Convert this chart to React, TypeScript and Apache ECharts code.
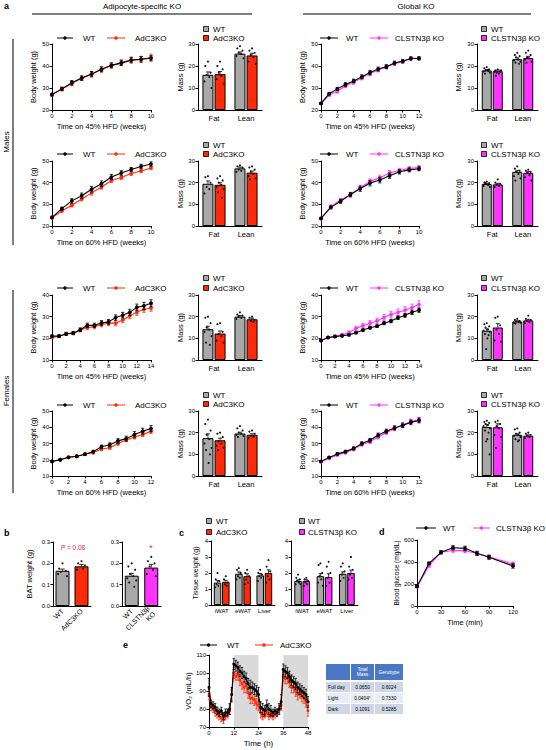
import React, { useEffect, useRef } from 'react';
import * as echarts from 'echarts';

const FONT = '"Liberation Sans", Arial, Helvetica, sans-serif';
const BLACK = '#000000';
const RED = '#FF2A0A';
const MAGENTA = '#FF33FF';
const GRAY = '#A8A8A8';
const SHADE = '#DADADA';
const TABLE_HEAD = '#4A78C4';
const TABLE_DARK = '#CFD7E7';
const TABLE_LIGHT = '#E8ECF4';

// ---------- x values / categories ----------
const weeks10 = [0, 1, 2, 3, 4, 5, 6, 7, 8, 9, 10];
const weeks12 = [0, 1, 2, 3, 4, 5, 6, 7, 8, 9, 10, 11, 12];
const weeks14 = [0, 1, 2, 3, 4, 5, 6, 7, 8, 9, 10, 11, 12, 13, 14];
const massCategories = ['Fat', 'Lean'];
const tissueCategories = ['iWAT', 'eWAT', 'Liver'];
const batCategoriesA = ['WT', 'AdC3KO'];
const batCategoriesG = ['WT', 'CLSTN3β\nKO'];
const glucoseMinutes = [0, 15, 30, 45, 60, 75, 90, 120];
const vo2Hours = [0, 1, 2, 3, 4, 5, 6, 7, 8, 9, 10, 11, 12, 13, 14, 15, 16, 17, 18, 19, 20, 21, 22, 23, 24,
  25, 26, 27, 28, 29, 30, 31, 32, 33, 34, 35, 36, 37, 38, 39, 40, 41, 42, 43, 44, 45, 46, 47, 48];

// ---------- body weight curves ----------
const maleA45WT = [27.0, 29.6, 32.4, 34.5, 36.4, 38.5, 40.3, 41.3, 42.6, 43.1, 43.5];
const maleA45WTErr = [0.6, 0.8, 1.0, 1.0, 1.1, 1.1, 1.1, 1.1, 1.2, 1.2, 1.2];
const maleA45KO = [27.0, 29.5, 32.0, 34.4, 36.2, 38.4, 40.2, 41.6, 42.8, 43.0, 43.9];
const maleA45KOErr = [0.6, 0.8, 1.0, 1.0, 1.3, 1.2, 1.2, 1.3, 1.3, 1.4, 1.5];

const maleG45WT = [23.0, 27.4, 29.6, 31.6, 33.2, 35.1, 37.0, 38.6, 39.7, 41.4, 42.2, 43.4, 43.5];
const maleG45WTErr = [0.4, 0.5, 0.7, 0.8, 0.8, 0.9, 1.0, 0.9, 0.9, 0.8, 0.8, 0.7, 0.7];
const maleG45KO = [23.0, 26.8, 28.5, 31.0, 32.6, 34.6, 36.6, 38.2, 39.5, 41.0, 42.0, 43.5, 43.4];
const maleG45KOErr = [0.4, 0.6, 0.8, 0.8, 0.9, 0.9, 1.0, 0.9, 0.8, 0.8, 0.7, 0.6, 0.6];

const maleA60WT = [24.0, 28.0, 31.6, 34.0, 37.0, 39.5, 42.6, 44.5, 46.1, 47.5, 48.6];
const maleA60WTErr = [0.5, 0.7, 1.0, 1.2, 1.3, 1.3, 1.2, 1.0, 0.9, 1.0, 1.0];
const maleA60KO = [23.8, 27.0, 29.6, 32.5, 35.3, 38.0, 41.0, 42.4, 44.2, 45.4, 46.8];
const maleA60KOErr = [0.5, 0.6, 0.8, 0.9, 1.0, 1.0, 0.9, 0.9, 0.8, 0.8, 0.8];

const maleG60WT = [23.5, 28.6, 31.4, 34.5, 37.2, 39.8, 41.2, 43.2, 45.0, 45.9, 46.4];
const maleG60WTErr = [0.5, 0.7, 0.9, 1.0, 1.2, 1.3, 1.3, 1.2, 1.0, 0.9, 0.9];
const maleG60KO = [23.4, 29.0, 32.0, 34.4, 37.8, 40.6, 42.3, 44.5, 45.6, 46.6, 47.0];
const maleG60KOErr = [0.5, 0.7, 0.8, 1.0, 1.0, 1.1, 1.2, 1.1, 1.0, 0.9, 0.9];

const femA45WT = [21.0, 21.0, 22.0, 22.4, 24.0, 26.0, 26.0, 27.1, 27.6, 29.6, 30.7, 32.0, 34.3, 35.0, 36.2];
const femA45WTErr = [0.5, 0.6, 0.6, 0.7, 0.8, 1.0, 1.0, 1.1, 1.1, 1.2, 1.3, 1.4, 1.5, 1.6, 1.6];
const femA45KO = [20.4, 21.0, 22.2, 22.4, 23.8, 25.0, 25.4, 26.4, 27.0, 27.0, 28.5, 30.4, 32.0, 33.4, 34.0];
const femA45KOErr = [0.5, 0.6, 0.6, 0.7, 0.8, 1.0, 1.0, 1.1, 1.1, 1.2, 1.3, 1.3, 1.4, 1.4, 1.5];

const femG45WT = [19.0, 20.4, 20.8, 21.2, 21.6, 22.6, 23.8, 24.9, 25.6, 27.0, 28.0, 29.5, 30.6, 32.0, 33.0];
const femG45WTErr = [0.4, 0.4, 0.4, 0.5, 0.5, 0.5, 0.6, 0.6, 0.6, 0.7, 0.8, 0.8, 0.9, 1.0, 1.0];
const femG45KO = [19.0, 20.3, 21.0, 21.6, 22.6, 24.6, 25.8, 27.0, 28.0, 29.6, 31.0, 32.0, 33.0, 34.2, 35.6];
const femG45KOErr = [0.4, 0.5, 0.6, 0.7, 0.8, 1.0, 1.1, 1.2, 1.3, 1.4, 1.5, 1.5, 1.6, 1.6, 1.7];

const femA60WT = [19.0, 20.0, 21.5, 22.2, 23.4, 25.0, 28.0, 29.2, 31.6, 33.0, 35.6, 37.6, 39.2];
const femA60WTErr = [0.4, 0.4, 0.5, 0.5, 0.6, 0.8, 1.0, 1.2, 1.4, 1.5, 1.7, 1.8, 1.9];
const femA60KO = [19.0, 20.0, 21.6, 22.0, 23.4, 24.4, 26.6, 27.4, 30.0, 32.2, 34.0, 35.6, 37.6];
const femA60KOErr = [0.4, 0.4, 0.5, 0.5, 0.6, 0.7, 0.8, 0.9, 1.0, 1.1, 1.2, 1.3, 1.4];

const femG60WT = [19.0, 21.4, 23.6, 25.0, 27.0, 30.0, 32.0, 35.2, 37.6, 39.6, 41.2, 43.0, 44.2];
const femG60WTErr = [0.5, 0.6, 0.7, 0.8, 0.9, 1.0, 1.1, 1.2, 1.2, 1.3, 1.4, 1.4, 1.5];
const femG60KO = [18.6, 21.0, 23.0, 24.4, 26.4, 29.4, 31.0, 34.0, 36.8, 39.2, 41.2, 43.6, 44.6];
const femG60KOErr = [0.5, 0.6, 0.7, 0.8, 0.9, 1.0, 1.1, 1.2, 1.2, 1.3, 1.4, 1.4, 1.5];

// ---------- body composition (Fat, Lean) ----------
const massMA45WT = [16.0, 25.6]; const massMA45WTErr = [1.3, 0.8];
const massMA45KO = [16.3, 24.8]; const massMA45KOErr = [1.2, 1.0];
const massMA45Dots = [[22, 20, 17, 16, 15, 13, 10], [22, 20, 18.5, 17, 15.5, 14, 12], [29, 28, 27, 26, 25.5, 24.5, 23.5], [28, 27, 26, 25, 24, 22, 21]];
const massMG45WT = [18.0, 23.1]; const massMG45WTErr = [0.4, 0.6];
const massMG45KO = [17.6, 23.6]; const massMG45KOErr = [0.5, 0.8];
const massMG45Dots = [[19.5, 19, 18.5, 18, 18, 17.5, 17, 16.5, 17.8], [18.5, 18, 17.5, 17, 16.5, 17.5, 18, 15.5], [26, 25, 24.5, 24, 23, 22.5, 22, 21.5, 21], [27, 26, 25, 24, 23.5, 23, 22, 21.5]];
const massMA60WT = [19.5, 26.6]; const massMA60WTErr = [1.3, 0.6];
const massMA60KO = [19.0, 24.6]; const massMA60KOErr = [1.0, 0.8];
const massMA60Dots = [[23, 22.5, 20, 18, 17, 15], [23, 22, 21, 20, 19, 18, 17, 15.5, 13], [28, 27.5, 27, 26, 25.5, 25], [27.5, 27, 26, 25, 24, 23, 22, 21.5]];
const massMG60WT = [19.4, 25.0]; const massMG60WTErr = [0.3, 0.7];
const massMG60KO = [19.2, 24.5]; const massMG60KOErr = [0.5, 0.6];
const massMG60Dots = [[20.5, 20, 19.8, 19.5, 19, 18.5, 18, 20, 19], [21.5, 20, 19.5, 19, 18.5, 18], [27.5, 26.5, 25.5, 25, 24, 23, 22, 21], [26, 25.5, 25, 24.5, 23.5, 22.5, 21]];
const massFA45WT = [14.2, 20.0]; const massFA45WTErr = [1.4, 0.5];
const massFA45KO = [12.2, 18.8]; const massFA45KOErr = [1.2, 0.5];
const massFA45Dots = [[20, 19.5, 17, 15, 14, 13, 11, 8, 7], [17, 16.5, 13, 12, 11, 9, 8], [22, 21, 20.5, 20, 19.5, 19], [20, 19.5, 18.5, 18, 17.5]];
const massFG45WT = [13.5, 17.8]; const massFG45WTErr = [0.9, 0.3];
const massFG45KO = [15.0, 18.3]; const massFG45KOErr = [1.8, 0.5];
const massFG45Dots = [[17, 16.5, 15.5, 15, 14, 13.5, 13, 12, 11.5, 10, 5], [20, 19.5, 16, 14, 12, 9, 8.5], [19, 18.5, 18, 17.8, 17.5, 17, 17.2, 16.8], [20.5, 19, 18.5, 18, 17.5, 17]];
const massFA60WT = [17.5, 19.6]; const massFA60WTErr = [2.0, 0.6];
const massFA60KO = [16.5, 19.0]; const massFA60KOErr = [1.0, 0.5];
const massFA60Dots = [[26, 24, 21, 19, 17, 15, 13, 12, 10, 6], [20, 19.5, 18, 16, 15, 14, 13, 12], [23, 22, 21, 20, 19.5, 19, 18.5, 18], [21, 20.5, 19.5, 18.5, 18, 17.5]];
const massFG60WT = [22.6, 19.0]; const massFG60WTErr = [1.2, 0.5];
const massFG60KO = [22.5, 18.6]; const massFG60KOErr = [1.6, 0.4];
const massFG60Dots = [[25.5, 25, 24.5, 24, 23.5, 23, 22, 21, 20, 17, 16, 10], [25.5, 25, 24, 23, 22, 19, 18, 13], [22, 21.5, 20, 19.5, 19, 18.5, 18, 17, 16.5, 16], [20, 19.5, 19, 18.5, 18, 17.5]];

// ---------- BAT ----------
const batA = [0.165, 0.186]; const batAErr = [0.008, 0.009];
const batADots = [[0.2, 0.175, 0.165, 0.16, 0.155, 0.15, 0.14], [0.21, 0.2, 0.19, 0.18, 0.175, 0.17]];
const batG = [0.142, 0.18]; const batGErr = [0.011, 0.015];
const batGDots = [[0.2, 0.185, 0.17, 0.15, 0.14, 0.13, 0.12, 0.11, 0.09], [0.23, 0.21, 0.2, 0.185, 0.17, 0.15, 0.14]];

// ---------- tissues ----------
const tissueAWT = [1.4, 1.95, 1.85]; const tissueAWTErr = [0.12, 0.12, 0.12];
const tissueAKO = [1.45, 1.8, 2.0]; const tissueAKOErr = [0.1, 0.15, 0.2];
const tissueADotsWT = [[2.0, 1.6, 1.5, 1.3, 1.2, 1.1], [2.3, 2.2, 2.0, 1.8, 1.7, 1.6], [2.2, 2.0, 1.9, 1.8, 1.7, 1.5]];
const tissueADotsKO = [[1.8, 1.6, 1.4, 1.3, 1.2], [2.2, 2.0, 1.8, 1.6, 1.4, 1.3], [2.8, 2.4, 2.1, 1.8, 1.6, 1.4]];
const tissueGWT = [1.5, 1.8, 1.95]; const tissueGWTErr = [0.07, 0.15, 0.12];
const tissueGKO = [1.5, 1.75, 2.0]; const tissueGKOErr = [0.08, 0.2, 0.18];
const tissueGDotsWT = [[1.9, 1.7, 1.6, 1.5, 1.4, 1.3, 1.3], [2.6, 2.5, 2.0, 1.8, 1.6, 1.4, 1.2], [2.6, 2.4, 2.1, 1.9, 1.7, 1.5]];
const tissueGDotsKO = [[1.7, 1.6, 1.5, 1.4, 1.3, 1.2], [2.7, 2.4, 2.0, 1.7, 1.4, 1.2], [3.0, 2.4, 2.2, 1.9, 1.7, 1.6]];

// ---------- glucose tolerance ----------
const glucoseWT = [178, 388, 488, 530, 524, 479, 443, 364];
const glucoseWTErr = [10, 12, 15, 18, 20, 18, 18, 20];
const glucoseKO = [176, 366, 488, 505, 503, 478, 448, 382];
const glucoseKOErr = [10, 12, 14, 16, 18, 16, 16, 18];

// ---------- VO2 ----------
const vo2WT = [92, 83, 82, 81, 79, 78, 79, 76, 78, 78, 80, 88, 105, 104, 103, 101, 100, 98, 97, 94, 92, 92, 91, 90, 88,
  81, 80, 79, 82, 80, 79, 78, 79, 78, 80, 84, 102, 101, 100, 98, 96, 95, 94, 92, 91, 90, 89, 88, 84];
const vo2WTErr = [5, 2, 2, 2, 2, 2, 2, 2, 2, 2, 3, 4, 3, 3, 3, 3, 3, 3, 3, 3, 4, 3, 3, 3, 4,
  3, 3, 3, 3, 3, 3, 2, 2, 2, 3, 4, 3, 3, 3, 3, 3, 3, 3, 3, 3, 3, 3, 3, 3];
const vo2KO = [88, 81, 80, 78, 77, 76, 75, 74, 76, 77, 79, 88, 100, 98, 99, 96, 94, 92, 93, 89, 86, 86, 85, 83, 82,
  78, 76, 77, 78, 76, 77, 76, 77, 78, 80, 82, 98, 97, 97, 95, 92, 92, 90, 88, 89, 87, 86, 84, 79];
const vo2KOErr = [3, 2, 2, 2, 2, 2, 2, 2, 2, 2, 2, 3, 3, 2, 3, 3, 3, 3, 4, 3, 3, 3, 3, 3, 3,
  3, 2, 2, 2, 2, 2, 2, 2, 2, 2, 3, 3, 3, 3, 3, 3, 3, 3, 3, 3, 3, 3, 3, 3];
const darkPhases = [[12, 24], [36, 48]];

// ---------- stats table ----------
const tableColumns = ['', 'Total\nMass', 'Genotype'];
const tableRows = ['Full day', 'Light', 'Dark'];
const tableTotalMass = ['0.0650', '0.0404', '0.1091'];
const tableTotalMassSig = [false, true, false];
const tableGenotype = ['0.6024', '0.7330', '0.5285'];

// jitter pattern for individual points (fraction of half bar width)
const JITTER = [0, -0.6, 0.6, -0.3, 0.3, -0.8, 0.8, -0.45, 0.45, 0.15, -0.15, 0.7];

function buildOption() {
  const grid: any[] = [];
  const xAxis: any[] = [];
  const yAxis: any[] = [];
  const series: any[] = [];
  const graphic: any[] = [];

  const axisBase = (fs = 6) => ({
    axisLine: { show: true, onZero: false, lineStyle: { color: BLACK, width: 1 } },
    axisTick: { show: true, length: 2.5, lineStyle: { color: BLACK, width: 1 } },
    axisLabel: { color: BLACK, fontSize: fs, fontFamily: FONT, margin: 3 },
    splitLine: { show: false },
    nameTextStyle: { color: BLACK, fontSize: 7.5, fontFamily: FONT },
  });

  const addGrid = (left: number, top: number, width: number, height: number) => {
    grid.push({ left, top, width, height, containLabel: false, outerBoundsMode: 'none' });
    return grid.length - 1;
  };

  const errSeries = (i: number, data: number[][], color: string, cap: number, upOnly: boolean, z: number) => ({
    type: 'custom',
    xAxisIndex: i,
    yAxisIndex: i,
    z,
    silent: true,
    renderItem: (_p: any, api: any) => {
      const x = api.value(0);
      const y = api.value(1);
      const e = api.value(2);
      const off = api.value(3) || 0;
      const top = api.coord([x, y + e]);
      const bot = api.coord([x, upOnly ? y : y - e]);
      const cx = top[0] + off;
      const st = { stroke: color, lineWidth: 0.8 };
      const ch: any[] = [
        { type: 'line', shape: { x1: cx, y1: top[1], x2: cx, y2: bot[1] }, style: st },
        { type: 'line', shape: { x1: cx - cap, y1: top[1], x2: cx + cap, y2: top[1] }, style: st },
      ];
      if (!upOnly) ch.push({ type: 'line', shape: { x1: cx - cap, y1: bot[1], x2: cx + cap, y2: bot[1] }, style: st });
      return { type: 'group', children: ch };
    },
    data,
  });

  const dotsSeries = (i: number, groups: { cat: number; off: number; vals: number[] }[], halfW: number) => {
    const data: number[][] = [];
    groups.forEach((g) => g.vals.forEach((v, k) => data.push([g.cat, v, g.off + JITTER[k % JITTER.length] * halfW * 0.8])));
    return {
      type: 'custom',
      xAxisIndex: i,
      yAxisIndex: i,
      z: 6,
      silent: true,
      renderItem: (_p: any, api: any) => {
        const c = api.coord([api.value(0), api.value(1)]);
        return { type: 'circle', shape: { cx: c[0] + api.value(2), cy: c[1], r: 1.05 }, style: { fill: '#111' } };
      },
      data,
    };
  };

  const lineSeries = (i: number, xs: number[], ys: number[], color: string, z: number, size = 3.8) => ({
    type: 'line',
    xAxisIndex: i,
    yAxisIndex: i,
    z,
    silent: true,
    data: xs.map((x, k) => [x, ys[k]]),
    symbol: 'circle',
    symbolSize: size,
    showSymbol: true,
    lineStyle: { color, width: 1.1 },
    itemStyle: { color, borderWidth: 0 },
  });

  const txt = (x: number, y: number, text: string, opts: any = {}) => ({
    type: 'text',
    x,
    y,
    silent: true,
    rotation: opts.rotation || 0,
    style: {
      text,
      fill: opts.fill || BLACK,
      fontSize: opts.fontSize || 8,
      fontFamily: FONT,
      fontWeight: opts.fontWeight || 'normal',
      fontStyle: opts.fontStyle || 'normal',
      align: opts.align || 'left',
      verticalAlign: opts.verticalAlign || 'middle',
      rich: opts.rich,
    },
  });

  const lineLegend = (y: number, x1: number, x2: number, tx: number, label: string, color: string) => {
    graphic.push({ type: 'line', silent: true, shape: { x1, y1: y, x2, y2: y }, style: { stroke: color, lineWidth: 1 } });
    graphic.push({ type: 'circle', silent: true, shape: { cx: (x1 + x2) / 2, cy: y, r: 1.7 }, style: { fill: color } });
    graphic.push(txt(tx, y, label));
  };

  const boxLegend = (y: number, cx: number, tx: number, label: string, color: string) => {
    graphic.push({ type: 'rect', silent: true, shape: { x: cx - 2.5, y: y - 2.5, width: 5, height: 5 }, style: { fill: color, stroke: BLACK, lineWidth: 0.8 } });
    graphic.push(txt(tx, y, label));
  };

  // ----- body weight line panel -----
  const linePanel = (p: any) => {
    const i = addGrid(p.left, p.top, p.width, p.height);
    xAxis.push({ gridIndex: i, type: 'value', min: 0, max: p.xMax, interval: 2, name: p.xName, nameLocation: 'middle', nameGap: 12, ...axisBase() });
    yAxis.push({ gridIndex: i, type: 'value', min: p.yMin, max: p.yMax, interval: 10, name: 'Body weight (g)', nameLocation: 'middle', nameGap: p.yGap, ...axisBase() });
    series.push(errSeries(i, p.xs.map((x: number, k: number) => [x, p.ko[k], p.koErr[k], 0]), p.color, 1.6, false, 2));
    series.push(lineSeries(i, p.xs, p.ko, p.color, 3));
    series.push(errSeries(i, p.xs.map((x: number, k: number) => [x, p.wt[k], p.wtErr[k], 0]), BLACK, 1.6, false, 4));
    series.push(lineSeries(i, p.xs, p.wt, BLACK, 5));
  };

  // ----- mass bar panel -----
  const massPanel = (p: any) => {
    const i = addGrid(p.left, p.top, p.width, p.height);
    xAxis.push({
      gridIndex: i, type: 'category', data: massCategories, ...axisBase(),
      axisTick: { show: false },
      axisLabel: { color: BLACK, fontSize: 7.5, fontFamily: FONT, margin: 4 },
    });
    yAxis.push({ gridIndex: i, type: 'value', min: 0, max: 30, interval: 10, name: 'Mass (g)', nameLocation: 'middle', nameGap: p.yGap, ...axisBase() });
    const off = (p.barW * 1.1) / 2;
    series.push({ type: 'bar', xAxisIndex: i, yAxisIndex: i, silent: true, data: p.wt, barWidth: p.barW, barGap: '10%', z: 2, itemStyle: { color: GRAY, borderColor: BLACK, borderWidth: 1 } });
    series.push({ type: 'bar', xAxisIndex: i, yAxisIndex: i, silent: true, data: p.ko, barWidth: p.barW, barGap: '10%', z: 2, itemStyle: { color: p.color, borderColor: BLACK, borderWidth: 1 } });
    series.push(errSeries(i, [[0, p.wt[0], p.wtErr[0], -off], [1, p.wt[1], p.wtErr[1], -off], [0, p.ko[0], p.koErr[0], off], [1, p.ko[1], p.koErr[1], off]], BLACK, 2, true, 5));
    series.push(dotsSeries(i, [
      { cat: 0, off: -off, vals: p.dots[0] },
      { cat: 0, off: off, vals: p.dots[1] },
      { cat: 1, off: -off, vals: p.dots[2] },
      { cat: 1, off: off, vals: p.dots[3] },
    ], p.barW / 2));
  };

  const rows = [
    { top: 44, height: 66, yMin: 20, yMax: 50, legY: 38, boxY: [29, 38] },
    { top: 161, height: 65, yMin: 20, yMax: 50, legY: 154, boxY: [145, 154] },
    { top: 295, height: 65, yMin: 10, yMax: 40, legY: 288, boxY: [278, 288] },
    { top: 411, height: 65, yMin: 10, yMax: 50, legY: 405, boxY: [395, 404] },
  ];
  const rowData = [
    { xsA: weeks10, xMaxA: 10, xsG: weeks12, xMaxG: 12, nameA: 'Time on 45% HFD (weeks)', nameG: 'Time on 45% HFD (weeks)',
      aWT: maleA45WT, aWTErr: maleA45WTErr, aKO: maleA45KO, aKOErr: maleA45KOErr,
      gWT: maleG45WT, gWTErr: maleG45WTErr, gKO: maleG45KO, gKOErr: maleG45KOErr,
      mA: [massMA45WT, massMA45WTErr, massMA45KO, massMA45KOErr, massMA45Dots],
      mG: [massMG45WT, massMG45WTErr, massMG45KO, massMG45KOErr, massMG45Dots] },
    { xsA: weeks10, xMaxA: 10, xsG: weeks10, xMaxG: 10, nameA: 'Time on 60% HFD (weeks)', nameG: 'Time on 60% HFD (weeks)',
      aWT: maleA60WT, aWTErr: maleA60WTErr, aKO: maleA60KO, aKOErr: maleA60KOErr,
      gWT: maleG60WT, gWTErr: maleG60WTErr, gKO: maleG60KO, gKOErr: maleG60KOErr,
      mA: [massMA60WT, massMA60WTErr, massMA60KO, massMA60KOErr, massMA60Dots],
      mG: [massMG60WT, massMG60WTErr, massMG60KO, massMG60KOErr, massMG60Dots] },
    { xsA: weeks14, xMaxA: 14, xsG: weeks14, xMaxG: 14, nameA: 'Time on 45% HFD (weeks)', nameG: 'Time on 45% HFD (weeks)',
      aWT: femA45WT, aWTErr: femA45WTErr, aKO: femA45KO, aKOErr: femA45KOErr,
      gWT: femG45WT, gWTErr: femG45WTErr, gKO: femG45KO, gKOErr: femG45KOErr,
      mA: [massFA45WT, massFA45WTErr, massFA45KO, massFA45KOErr, massFA45Dots],
      mG: [massFG45WT, massFG45WTErr, massFG45KO, massFG45KOErr, massFG45Dots] },
    { xsA: weeks12, xMaxA: 12, xsG: weeks12, xMaxG: 12, nameA: 'Time on 60% HFD (weeks)', nameG: 'Time on 60% HFD (weeks)',
      aWT: femA60WT, aWTErr: femA60WTErr, aKO: femA60KO, aKOErr: femA60KOErr,
      gWT: femG60WT, gWTErr: femG60WTErr, gKO: femG60KO, gKOErr: femG60KOErr,
      mA: [massFA60WT, massFA60WTErr, massFA60KO, massFA60KOErr, massFA60Dots],
      mG: [massFG60WT, massFG60WTErr, massFG60KO, massFG60KOErr, massFG60Dots] },
  ];

  rows.forEach((r, k) => {
    const d = rowData[k];
    linePanel({ left: 52, top: r.top, width: 99, height: r.height, xs: d.xsA, xMax: d.xMaxA, yMin: r.yMin, yMax: r.yMax, xName: d.nameA, yGap: 15,
      wt: d.aWT, wtErr: d.aWTErr, ko: d.aKO, koErr: d.aKOErr, color: RED });
    massPanel({ left: 198, top: r.top, width: 64, height: r.height, barW: 11, yGap: 13, color: RED,
      wt: d.mA[0], wtErr: d.mA[1], ko: d.mA[2], koErr: d.mA[3], dots: d.mA[4] });
    linePanel({ left: 321, top: r.top, width: 98, height: r.height, xs: d.xsG, xMax: d.xMaxG, yMin: r.yMin, yMax: r.yMax, xName: d.nameG, yGap: 15,
      wt: d.gWT, wtErr: d.gWTErr, ko: d.gKO, koErr: d.gKOErr, color: MAGENTA });
    massPanel({ left: 477, top: r.top, width: 61, height: r.height, barW: 10, yGap: 15, color: MAGENTA,
      wt: d.mG[0], wtErr: d.mG[1], ko: d.mG[2], koErr: d.mG[3], dots: d.mG[4] });

    lineLegend(r.legY, 57, 73, 83, 'WT', BLACK);
    lineLegend(r.legY, 107, 125, 135, 'AdC3KO', RED);
    boxLegend(r.boxY[0], 206, 213, 'WT', GRAY);
    boxLegend(r.boxY[1], 206, 213, 'AdC3KO', RED);
    lineLegend(r.legY, 320, 338, 346, 'WT', BLACK);
    lineLegend(r.legY, 370, 388, 395, 'CLSTN3β KO', MAGENTA);
    boxLegend(r.boxY[0], 484, 491, 'WT', GRAY);
    boxLegend(r.boxY[1], 484, 491, 'CLSTN3β KO', MAGENTA);
  });

  // ----- panel b: BAT -----
  const batPanel = (left: number, width: number, cats: string[], vals: number[], errs: number[], dots: number[][], color: string, showName: boolean) => {
    const i = addGrid(left, 542, width, 64);
    xAxis.push({
      gridIndex: i, type: 'category', data: cats, ...axisBase(),
      axisTick: { show: false },
      axisLabel: { color: BLACK, fontSize: 7, fontFamily: FONT, margin: 4, rotate: 45, lineHeight: 8, interval: 0 },
    });
    yAxis.push({
      gridIndex: i, type: 'value', min: 0, max: 0.3, interval: 0.1,
      name: showName ? 'BAT weight (g)' : '', nameLocation: 'middle', nameGap: 20, ...axisBase(),
      axisLabel: { color: BLACK, fontSize: 6, fontFamily: FONT, margin: 3, formatter: (v: number) => v.toFixed(1) },
    });
    series.push({
      type: 'bar', xAxisIndex: i, yAxisIndex: i, silent: true, barWidth: 14, z: 2,
      data: [
        { value: vals[0], itemStyle: { color: GRAY, borderColor: BLACK, borderWidth: 1 } },
        { value: vals[1], itemStyle: { color, borderColor: BLACK, borderWidth: 1 } },
      ],
    });
    series.push(errSeries(i, [[0, vals[0], errs[0], 0], [1, vals[1], errs[1], 0]], BLACK, 2.2, true, 5));
    series.push(dotsSeries(i, [{ cat: 0, off: 0, vals: dots[0] }, { cat: 1, off: 0, vals: dots[1] }], 7));
  };
  batPanel(53, 38, batCategoriesA, batA, batAErr, batADots, RED, true);
  batPanel(122, 39, batCategoriesG, batG, batGErr, batGDots, MAGENTA, false);
  graphic.push(txt(73, 547, '{i|P} = 0.08', { fontSize: 6.5, fill: '#D7302A', align: 'center', rich: { i: { fontStyle: 'italic', fontSize: 6.5, fill: '#D7302A', fontFamily: FONT } } }));
  graphic.push(txt(151, 548, '*', { fontSize: 9, fill: '#D7302A', align: 'center' }));

  // ----- panel c: tissues -----
  const tissuePanel = (left: number, width: number, wt: number[], wtErr: number[], ko: number[], koErr: number[], dWT: number[][], dKO: number[][], color: string, showName: boolean) => {
    const i = addGrid(left, 541, width, 64);
    xAxis.push({
      gridIndex: i, type: 'category', data: tissueCategories, ...axisBase(),
      axisTick: { show: false },
      axisLabel: { color: BLACK, fontSize: 6, fontFamily: FONT, margin: 3, interval: 0, hideOverlap: false },
    });
    yAxis.push({
      gridIndex: i, type: 'value', min: 0, max: 4, interval: 1,
      name: showName ? 'Tissue weight (g)' : '', nameLocation: 'middle', nameGap: 12, ...axisBase(),
      nameTextStyle: { color: BLACK, fontSize: 7, fontFamily: FONT },
    });
    const bw = 7.5;
    const off = (bw * 1.1) / 2;
    series.push({ type: 'bar', xAxisIndex: i, yAxisIndex: i, silent: true, data: wt, barWidth: bw, barGap: '10%', z: 2, itemStyle: { color: GRAY, borderColor: BLACK, borderWidth: 1 } });
    series.push({ type: 'bar', xAxisIndex: i, yAxisIndex: i, silent: true, data: ko, barWidth: bw, barGap: '10%', z: 2, itemStyle: { color, borderColor: BLACK, borderWidth: 1 } });
    const err: number[][] = [];
    wt.forEach((v, k) => err.push([k, v, wtErr[k], -off]));
    ko.forEach((v, k) => err.push([k, v, koErr[k], off]));
    series.push(errSeries(i, err, BLACK, 1.8, true, 5));
    const groups: any[] = [];
    dWT.forEach((vals, k) => groups.push({ cat: k, off: -off, vals }));
    dKO.forEach((vals, k) => groups.push({ cat: k, off: off, vals }));
    series.push(dotsSeries(i, groups, bw / 2));
  };
  tissuePanel(211, 64, tissueAWT, tissueAWTErr, tissueAKO, tissueAKOErr, tissueADotsWT, tissueADotsKO, RED, true);
  tissuePanel(291, 67, tissueGWT, tissueGWTErr, tissueGKO, tissueGKOErr, tissueGDotsWT, tissueGDotsKO, MAGENTA, false);
  boxLegend(521, 209, 216, 'WT', GRAY);
  boxLegend(532, 209, 216, 'AdC3KO', RED);
  boxLegend(521, 302, 308, 'WT', GRAY);
  boxLegend(532, 302, 308, 'CLSTN3β KO', MAGENTA);

  // ----- panel d: glucose -----
  {
    const i = addGrid(417, 540, 96, 66);
    xAxis.push({ gridIndex: i, type: 'value', min: 0, max: 120, interval: 30, name: 'Time (min)', nameLocation: 'middle', nameGap: 12, ...axisBase() });
    yAxis.push({ gridIndex: i, type: 'value', min: 0, max: 600, interval: 200, name: 'Blood glucose (mg/dL)', nameLocation: 'middle', nameGap: 17, ...axisBase(),
      nameTextStyle: { color: BLACK, fontSize: 6.5, fontFamily: FONT } });
    series.push(errSeries(i, glucoseMinutes.map((x, k) => [x, glucoseKO[k], glucoseKOErr[k], 0]), MAGENTA, 1.8, false, 2));
    series.push(lineSeries(i, glucoseMinutes, glucoseKO, MAGENTA, 3));
    series.push(errSeries(i, glucoseMinutes.map((x, k) => [x, glucoseWT[k], glucoseWTErr[k], 0]), BLACK, 1.8, false, 4));
    series.push(lineSeries(i, glucoseMinutes, glucoseWT, BLACK, 5));
    lineLegend(528, 416, 436, 443, 'WT', BLACK);
    lineLegend(528, 473, 490, 496, 'CLSTN3β KO', MAGENTA);
  }

  // ----- panel e: VO2 -----
  {
    const i = addGrid(209, 655, 99, 72);
    xAxis.push({ gridIndex: i, type: 'value', min: 0, max: 48, interval: 12, name: 'Time (h)', nameLocation: 'middle', nameGap: 12, ...axisBase(),
      nameTextStyle: { color: BLACK, fontSize: 8, fontFamily: FONT } });
    yAxis.push({ gridIndex: i, type: 'value', min: 70, max: 110, interval: 10, name: 'VO₂ (mL/h)', nameLocation: 'middle', nameGap: 14, ...axisBase(),
      nameTextStyle: { color: BLACK, fontSize: 7.5, fontFamily: FONT } });
    series.push({
      type: 'line', xAxisIndex: i, yAxisIndex: i, z: 1, silent: true,
      data: vo2Hours.map((x, k) => [x, vo2WT[k]]), symbol: 'none', lineStyle: { opacity: 0 },
      markArea: { silent: true, itemStyle: { color: SHADE }, data: darkPhases.map((p) => [{ xAxis: p[0] }, { xAxis: p[1] }]) },
    });
    series.push(errSeries(i, vo2Hours.map((x, k) => [x, vo2KO[k], vo2KOErr[k], 0]), RED, 1.2, false, 2));
    series.push(lineSeries(i, vo2Hours, vo2KO, RED, 3, 3));
    series.push(errSeries(i, vo2Hours.map((x, k) => [x, vo2WT[k], vo2WTErr[k], 0]), BLACK, 1.2, false, 4));
    series.push(lineSeries(i, vo2Hours, vo2WT, BLACK, 5, 3));
    lineLegend(645, 200, 217, 227, 'WT', BLACK);
    lineLegend(645, 255, 273, 280, 'AdC3KO', RED);
  }

  // ----- stats table -----
  const colX = [326, 351, 375];
  const colW = [24, 23, 28];
  tableColumns.forEach((c, k) => {
    graphic.push({ type: 'rect', silent: true, shape: { x: colX[k], y: 664, width: colW[k], height: 16 }, style: { fill: TABLE_HEAD } });
    if (c) graphic.push(txt(colX[k] + colW[k] / 2, 672, c, { fontSize: 4.8, fill: '#FFFFFF', align: 'center' }));
  });
  tableRows.forEach((rName, r) => {
    const y = 682 + r * 11;
    const fill = r % 2 === 0 ? TABLE_DARK : TABLE_LIGHT;
    colX.forEach((x, k) => {
      graphic.push({ type: 'rect', silent: true, shape: { x, y, width: colW[k], height: 10 }, style: { fill } });
    });
    graphic.push(txt(colX[0] + 2, y + 5, rName, { fontSize: 4.8 }));
    graphic.push(txt(colX[1] + colW[1] / 2, y + 5, tableTotalMass[r] + (tableTotalMassSig[r] ? '{s|*}' : ''), {
      fontSize: 4.8, align: 'center', rich: { s: { fill: '#E0302A', fontSize: 5, fontFamily: FONT } } }));
    graphic.push(txt(colX[2] + colW[2] / 2, y + 5, tableGenotype[r], { fontSize: 4.8, align: 'center' }));
  });

  // ----- headers, brackets, panel letters -----
  graphic.push(txt(4, 6, 'a', { fontWeight: 'bold', fontSize: 9 }));
  graphic.push(txt(4, 533, 'b', { fontWeight: 'bold', fontSize: 9 }));
  graphic.push(txt(179, 533, 'c', { fontWeight: 'bold', fontSize: 9 }));
  graphic.push(txt(379, 532, 'd', { fontWeight: 'bold', fontSize: 9 }));
  graphic.push(txt(123, 645, 'e', { fontWeight: 'bold', fontSize: 9 }));
  graphic.push(txt(142, 6, 'Adipocyte-specific KO', { align: 'center', fontSize: 8 }));
  graphic.push(txt(416, 6, 'Global KO', { align: 'center', fontSize: 8 }));
  graphic.push({ type: 'line', silent: true, shape: { x1: 32, y1: 14, x2: 252, y2: 14 }, style: { stroke: BLACK, lineWidth: 1 } });
  graphic.push({ type: 'line', silent: true, shape: { x1: 303, y1: 14, x2: 531, y2: 14 }, style: { stroke: BLACK, lineWidth: 1 } });
  graphic.push({ type: 'line', silent: true, shape: { x1: 13, y1: 39, x2: 13, y2: 245 }, style: { stroke: BLACK, lineWidth: 1 } });
  graphic.push({ type: 'line', silent: true, shape: { x1: 13, y1: 290, x2: 13, y2: 493 }, style: { stroke: BLACK, lineWidth: 1 } });
  graphic.push(txt(6, 142, 'Males', { align: 'center', rotation: Math.PI / 2, fontSize: 8 }));
  graphic.push(txt(6, 391, 'Females', { align: 'center', rotation: Math.PI / 2, fontSize: 8 }));

  return {
    animation: false,
    backgroundColor: '#FFFFFF',
    textStyle: { fontFamily: FONT },
    grid,
    xAxis,
    yAxis,
    series,
    graphic: { elements: graphic },
  };
}

export default function App() {
  const ref = useRef<HTMLDivElement>(null);
  useEffect(() => {
    document.body.style.margin = '0';
    if (!ref.current) return;
    const chart = echarts.init(ref.current, null, { renderer: 'svg' });
    chart.setOption(buildOption() as any);
    return () => chart.dispose();
  }, []);
  return <div ref={ref} style={{ width: 546, height: 750, background: '#FFFFFF' }} />;
}
